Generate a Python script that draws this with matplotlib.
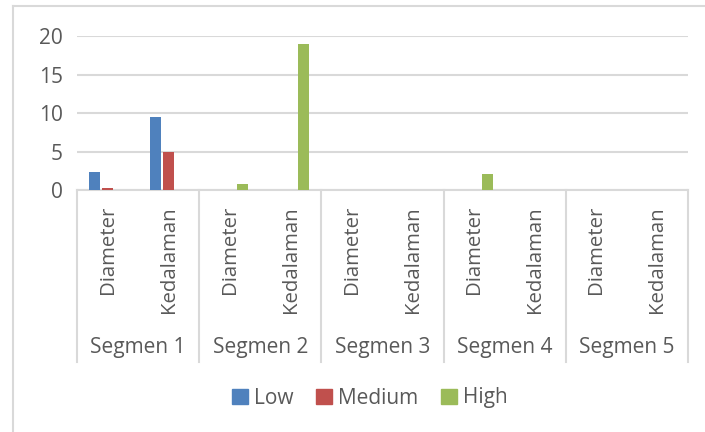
import matplotlib.pyplot as plt
from matplotlib.patches import Patch
from matplotlib.lines import Line2D
import numpy as np

segmen = ["Segmen 1", "Segmen 2", "Segmen 3", "Segmen 4", "Segmen 5"]
ukuran = ["Diameter", "Kedalaman"]

# nilai per kategori (Diameter, Kedalaman) untuk tiap segmen
low = [2.3, 9.5, 0, 0, 0, 0, 0, 0, 0, 0]
medium = [0.3, 5, 0, 0, 0, 0, 0, 0, 0, 0]
high = [0, 0, 0.8, 19, 0, 0, 2.1, 0, 0, 0]

warna = {"Low": "#4F81BD", "Medium": "#C0504D", "High": "#9BBB59"}
abu_teks = "#595959"
abu_garis = "#D9D9D9"

plt.rcParams["font.family"] = ["Open Sans", "DejaVu Sans"]

W, H = 705, 432
fig = plt.figure(figsize=(W / 100, H / 100), dpi=100)

x0, x1 = 77, 688
y0, y1 = 190, 36
ax = fig.add_axes([x0 / W, 1 - y0 / H, (x1 - x0) / W, (y0 - y1) / H])

n = len(low)
x = np.arange(n)
lebar = 0.18
jarak = 0.213
ax.bar(x - jarak, low, lebar, color=warna["Low"], zorder=3)
ax.bar(x, medium, lebar, color=warna["Medium"], zorder=3)
ax.bar(x + jarak, high, lebar, color=warna["High"], zorder=3)

ax.set_xlim(-0.5, n - 0.5)
ax.set_ylim(0, 20)
ax.set_yticks([0, 5, 10, 15, 20])
ax.yaxis.grid(True, color=abu_garis, linewidth=1.5, zorder=0)
for s in ["left", "right", "top"]:
    ax.spines[s].set_visible(False)
ax.spines["bottom"].set_color(abu_garis)
ax.spines["bottom"].set_linewidth(1.5)
ax.tick_params(axis="y", length=0, labelsize=15, labelcolor=abu_teks, pad=10)
ax.set_xticks([])

# label kategori vertikal
for i in range(n):
    ax.text(i, -16 / (y0 - y1) * 20, ukuran[i % 2], rotation=90, ha="center", va="top",
            fontsize=14.7, color=abu_teks, clip_on=False)

# label segmen dan garis pemisah
bawah = (y0 - 362) / (y0 - y1)
trans = ax.get_xaxis_transform()
for b in np.arange(-0.5, n, 2):
    ax.add_line(Line2D([b, b], [0, bawah], transform=trans, color=abu_garis,
                       linewidth=1.5, clip_on=False))
for j, nama in enumerate(segmen):
    ax.text(2 * j + 0.5, (y0 - 348) / (y0 - y1), nama, transform=trans, ha="center",
            va="center", fontsize=15, color=abu_teks)

# bingkai grafik
fig.add_artist(Line2D([13 / W, 1], [1 - 6 / H, 1 - 6 / H], color=abu_garis, linewidth=1.5))
fig.add_artist(Line2D([13 / W, 13 / W], [0, 1 - 6 / H], color=abu_garis, linewidth=1.5))

handles = [Patch(color=c, label=k) for k, c in warna.items()]
fig.legend(handles=handles, loc="center", bbox_to_anchor=(370 / W, 1 - 398 / H), ncol=3,
           frameon=False, fontsize=15, labelcolor=abu_teks, handlelength=0.75,
           handleheight=0.75, handletextpad=0.3, columnspacing=1.1)

fig.savefig("out.png", dpi=100)
